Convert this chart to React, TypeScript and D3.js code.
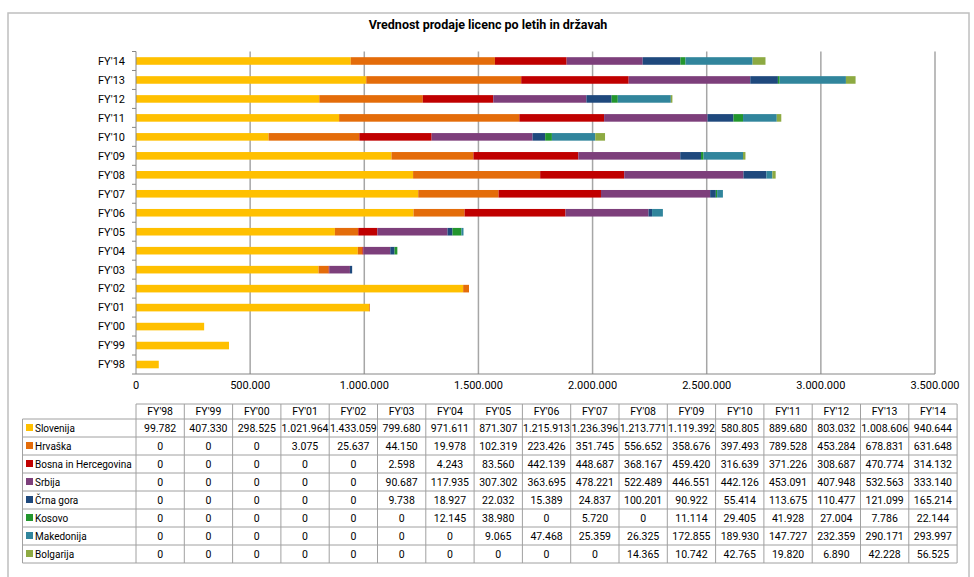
import React from 'react'
import * as d3 from 'd3'

const years = ["FY'98", "FY'99", "FY'00", "FY'01", "FY'02", "FY'03", "FY'04", "FY'05", "FY'06", "FY'07", "FY'08", "FY'09", "FY'10", "FY'11", "FY'12", "FY'13", "FY'14"]

const countries = ['Slovenija', 'Hrvaška', 'Bosna in Hercegovina', 'Srbija', 'Črna gora', 'Kosovo', 'Makedonija', 'Bolgarija']

const slovenija = [99782, 407330, 298525, 1021964, 1433059, 799680, 971611, 871307, 1215913, 1236396, 1213771, 1119392, 580805, 889680, 803032, 1008606, 940644]
const hrvaska = [0, 0, 0, 3075, 25637, 44150, 19978, 102319, 223426, 351745, 556652, 358676, 397493, 789528, 453284, 678831, 631648]
const bosna = [0, 0, 0, 0, 0, 2598, 4243, 83560, 442139, 448687, 368167, 459420, 316639, 371226, 308687, 470774, 314132]
const srbija = [0, 0, 0, 0, 0, 90687, 117935, 307302, 363695, 478221, 522489, 446551, 442126, 453091, 407948, 532563, 333140]
const crnaGora = [0, 0, 0, 0, 0, 9738, 18927, 22032, 15389, 24837, 100201, 90922, 55414, 113675, 110477, 121099, 165214]
const kosovo = [0, 0, 0, 0, 0, 0, 12145, 38980, 0, 5720, 0, 11114, 29405, 41928, 27004, 7786, 22144]
const makedonija = [0, 0, 0, 0, 0, 0, 0, 9065, 47468, 25359, 26325, 172855, 189930, 147727, 232359, 290171, 293997]
const bolgarija = [0, 0, 0, 0, 0, 0, 0, 0, 0, 0, 14365, 10742, 42765, 19820, 6890, 42228, 56525]

const xTicks = [0, 500000, 1000000, 1500000, 2000000, 2500000, 3000000, 3500000]

const colors = ['#FFC000', '#E46C0A', '#C00000', '#7D3F7B', '#1F497D', '#23962E', '#31859C', '#8DAA42']

const FONT = 'Roboto, "Liberation Sans", sans-serif'

function App() {
  const svgRef = React.useRef(null)

  React.useEffect(() => {
    const width = 974
    const height = 577
    const margin = { top: 51.5, right: 39, bottom: 203, left: 136 }
    const svg = d3.select(svgRef.current)
    svg.selectAll('*').remove()

    const series = [slovenija, hrvaska, bosna, srbija, crnaGora, kosovo, makedonija, bolgarija]
    const rows = years.map((y, i) => {
      const r: any = { year: y }
      countries.forEach((c, k) => (r[c] = series[k][i]))
      return r
    })
    const stacked = d3.stack().keys(countries)(rows)

    const locale = d3.formatLocale({ decimal: ',', thousands: '.', grouping: [3], currency: ['', ''] })
    const fmt = locale.format(',')

    const x = d3
      .scaleLinear()
      .domain([0, 3500000])
      .range([margin.left, width - margin.right])

    const y = d3
      .scaleBand()
      .domain(years.slice().reverse())
      .range([margin.top, height - margin.bottom])
      .paddingInner(0.6)
      .paddingOuter(0.3)

    const step = y.step()
    const plotBottom = height - margin.bottom

    // outer frame
    svg
      .append('rect')
      .attr('x', 8)
      .attr('y', 13)
      .attr('width', 961)
      .attr('height', 600)
      .attr('fill', 'white')
      .attr('stroke', '#BFBFBF')
      .attr('stroke-width', 1.5)

    // title
    svg
      .append('text')
      .attr('x', 488)
      .attr('y', 29)
      .attr('text-anchor', 'middle')
      .attr('font-family', FONT)
      .attr('font-size', 12.5)
      .attr('font-weight', 'bold')
      .attr('fill', '#000')
      .text('Vrednost prodaje licenc po letih in državah')

    // gridlines
    svg
      .append('g')
      .selectAll('line')
      .data(xTicks.slice(1))
      .enter()
      .append('line')
      .attr('x1', (d) => x(d))
      .attr('x2', (d) => x(d))
      .attr('y1', margin.top)
      .attr('y2', plotBottom)
      .attr('stroke', '#A6A6A6')
      .attr('stroke-width', 1.5)

    // bars
    svg
      .append('g')
      .selectAll('g')
      .data(stacked)
      .enter()
      .append('g')
      .attr('fill', (d, i) => colors[i])
      .selectAll('rect')
      .data((d) => d.filter((p) => p[1] > p[0]))
      .enter()
      .append('rect')
      .attr('x', (d) => x(d[0]))
      .attr('width', (d) => x(d[1]) - x(d[0]))
      .attr('y', (d) => y(d.data.year))
      .attr('height', y.bandwidth())

    // left axis
    svg
      .append('line')
      .attr('x1', margin.left)
      .attr('x2', margin.left)
      .attr('y1', margin.top)
      .attr('y2', plotBottom)
      .attr('stroke', '#868686')
      .attr('stroke-width', 1)

    svg
      .append('g')
      .selectAll('line')
      .data(d3.range(years.length + 1))
      .enter()
      .append('line')
      .attr('x1', margin.left - 4)
      .attr('x2', margin.left)
      .attr('y1', (k) => margin.top + k * step)
      .attr('y2', (k) => margin.top + k * step)
      .attr('stroke', '#868686')

    svg
      .append('g')
      .selectAll('text')
      .data(years)
      .enter()
      .append('text')
      .attr('x', margin.left - 11)
      .attr('y', (d) => y(d) + y.bandwidth() / 2)
      .attr('dy', '0.35em')
      .attr('text-anchor', 'end')
      .attr('font-family', FONT)
      .attr('font-size', 11)
      .attr('fill', '#000')
      .text((d) => d)

    // bottom axis
    svg
      .append('line')
      .attr('x1', margin.left)
      .attr('x2', x(3500000))
      .attr('y1', plotBottom)
      .attr('y2', plotBottom)
      .attr('stroke', '#868686')

    svg
      .append('g')
      .selectAll('text')
      .data(xTicks)
      .enter()
      .append('text')
      .attr('x', (d) => x(d))
      .attr('y', plotBottom + 15)
      .attr('text-anchor', 'middle')
      .attr('font-family', FONT)
      .attr('font-size', 11)
      .attr('fill', '#000')
      .text((d) => fmt(d))

    // data table
    const tableLeft = 22.5
    const colStart = margin.left
    const colW = 48.3
    const headTop = 404
    const headH = 15
    const rowH = 18
    const tableRight = colStart + colW * years.length
    const tableBottom = headTop + headH + rowH * countries.length
    const grid = '#A0A0A0'
    const t = svg.append('g')

    // header cells
    t.append('line')
      .attr('x1', colStart).attr('x2', tableRight)
      .attr('y1', headTop).attr('y2', headTop)
      .attr('stroke', grid)
    years.forEach((yr, i) => {
      t.append('text')
        .attr('x', colStart + colW * i + colW / 2)
        .attr('y', headTop + headH / 2)
        .attr('dy', '0.35em')
        .attr('text-anchor', 'middle')
        .attr('font-family', FONT)
        .attr('font-size', 10.5)
        .attr('fill', '#000')
        .text(yr)
    })
    // horizontal lines
    d3.range(countries.length + 1).forEach((k) => {
      const yy = headTop + headH + k * rowH
      t.append('line')
        .attr('x1', tableLeft).attr('x2', tableRight)
        .attr('y1', yy).attr('y2', yy)
        .attr('stroke', grid)
    })
    // vertical lines
    t.append('line')
      .attr('x1', tableLeft).attr('x2', tableLeft)
      .attr('y1', headTop + headH).attr('y2', tableBottom)
      .attr('stroke', grid)
    d3.range(years.length + 1).forEach((k) => {
      const xx = colStart + k * colW
      t.append('line')
        .attr('x1', xx).attr('x2', xx)
        .attr('y1', headTop).attr('y2', tableBottom)
        .attr('stroke', grid)
    })
    // rows
    countries.forEach((c, k) => {
      const cy = headTop + headH + k * rowH + rowH / 2
      t.append('rect')
        .attr('x', tableLeft + 3.5)
        .attr('y', cy - 4)
        .attr('width', 7)
        .attr('height', 7)
        .attr('fill', colors[k])
      t.append('text')
        .attr('x', tableLeft + 12.5)
        .attr('y', cy)
        .attr('dy', '0.35em')
        .attr('font-family', FONT)
        .attr('font-size', 10)
        .attr('fill', '#000')
        .text(c)
      series[k].forEach((v, i) => {
        t.append('text')
          .attr('x', colStart + colW * i + colW / 2)
          .attr('y', cy)
          .attr('dy', '0.35em')
          .attr('text-anchor', 'middle')
          .attr('font-family', FONT)
          .attr('font-size', 10.5)
          .attr('fill', '#000')
          .text(fmt(v))
      })
    })
  }, [])

  return (
    <div style={{ position: 'absolute', left: 0, top: 0 }}>
      <svg ref={svgRef} width={974} height={577} style={{ display: 'block' }}></svg>
    </div>
  )
}

export default App
